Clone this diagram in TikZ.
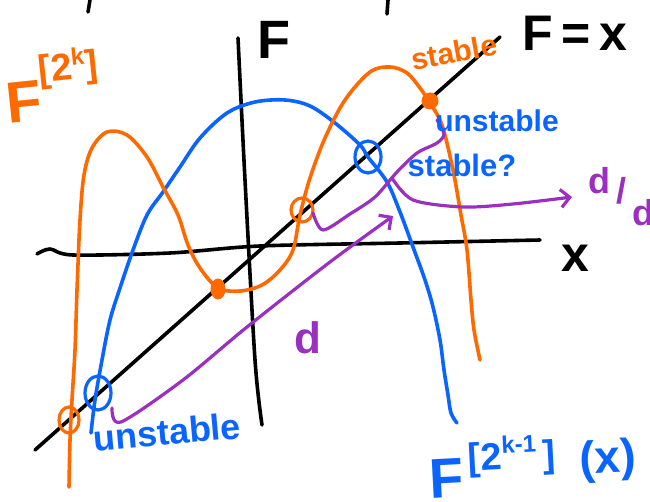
\documentclass[tikz,border=0pt]{standalone}
\usepackage{fontspec}
\setmainfont{Liberation Sans}
\usetikzlibrary{arrows.meta,shapes.geometric}
\definecolor{sketchorange}{RGB}{255,106,0}
\definecolor{sketchblue}{RGB}{10,100,255}
\definecolor{sketchpurple}{RGB}{155,48,190}
\newcommand{\penfs}[1]{\fontsize{#1}{#1}\selectfont}

\begin{document}
\begin{tikzpicture}[x=1pt, y=-1pt, line cap=round, line join=round,
            ink/.style = {line width=3.6pt},
            purp/.style = {sketchpurple, line width=3.2pt},
            barb/.style = {-{Straight Barb[length=9pt, width=18pt]}},
            fixpt/.style = {draw, ellipse, line width=3.2pt, inner sep=0pt},
            dotpt/.style = {fill, ellipse, inner sep=0pt},
            pen/.style = {font=\bfseries, inner sep=0pt}]
            \useasboundingbox (0,0) rectangle (650,502);

            \draw[ink] (90,0) -- (88,12);
            \draw[ink] (388,0) -- (387,14);

            \draw[ink] plot[smooth] coordinates {(37,254) (50,249) (73,255) (170,253) (260,246) (400,243) (540,240)};
            \draw[ink] plot[smooth] coordinates {(238,38) (245,180) (255,360) (262,425)};
            \draw[ink] (35,450) -- (500,37);

            \node[pen] (Flab) at (274,40) {\penfs{54}F};
            \node[pen] (diag) at (575,33) {\penfs{50}F\,=\,x};
            \node[pen] (xlab) at (575,258) {\penfs{50}x};

            \draw[ink, sketchblue] plot[smooth, tension=0.55] coordinates {(91,433) (95,400) (102,360) (110,320) (120,288) (133,250) (147,215) (163,192) (180,167) (200,138) (227,113) (255,102) (285,100) (310,106) (335,123) (360,145) (368,157) (387,182) (400,212) (413,247) (425,280) (433,307) (440,340) (444,370) (448,395) (451,413) (457,423)};
            \draw[ink, sketchorange] plot[smooth, tension=0.55] coordinates {(69,487) (70,440) (72,400) (75,350) (77,290) (80,220) (84,175) (92,148) (107,132) (127,135) (147,157) (163,187) (178,215) (188,245) (200,268) (218,288) (240,291) (262,285) (280,270) (293,250) (300,215) (310,178) (325,138) (345,100) (370,72) (390,67) (407,73) (420,88) (430,103) (442,125) (453,170) (461,215) (467,250) (471,300) (474,330) (480,360)};

            \node[fixpt, sketchorange, minimum width=20pt, minimum height=26pt] (olow) at (69,420) {};
            \node[fixpt, sketchblue, minimum width=26pt, minimum height=34pt] (blow) at (98,393) {};
            \node[dotpt, sketchorange, minimum width=15pt, minimum height=21pt] (omid) at (218,289) {};
            \node[fixpt, sketchorange, minimum width=22pt, minimum height=24pt] (oup) at (302,210) {};
            \node[fixpt, sketchblue, minimum width=26pt, minimum height=32pt] (bup) at (368,157) {};
            \node[dotpt, sketchorange, minimum size=17pt] (otop) at (430,101) {};

            \coordinate (dfrom) at (112,408);
            \coordinate (dto) at (393,216);
            \coordinate (afrom) at (313,213);
            \coordinate (ato) at (437,120);
            \coordinate (lfrom) at (392,178);
            \coordinate (lto) at (572,197);
            \draw[purp, barb] plot[smooth, tension=0.5] coordinates {(dfrom) (121,422) (183,380) (247,327) (330,262) (dto)};
            \draw[purp] plot[smooth, tension=0.5] coordinates {(afrom) (323,230) (350,214) (375,197) (397,172) (417,153) (437,143) (444,134) (ato)};
            \draw[purp, barb] plot[smooth, tension=0.5] coordinates {(lfrom) (413,200) (463,207) (513,204) (lto)};

            \node[pen, sketchpurple] (dlab) at (308,338) {\penfs{44}d};
            \node[pen, sketchpurple, anchor=base west] (ratio) at (588,194) {\penfs{36}d\,\raisebox{-10pt}{/}\,\raisebox{-32pt}{d}};

            \node[pen, sketchorange, rotate=10] (stab) at (454,52) {\penfs{30}stable};
            \node[pen, sketchblue] (unstab) at (497,121) {\penfs{30}unstable};
            \node[pen, sketchblue] (maybe) at (462,165) {\penfs{31}stable?};
            \node[pen, sketchblue, rotate=5] (unlow) at (167,432) {\penfs{36}unstable};

            \node[pen, sketchorange, anchor=base west, rotate=6] (Fk) at (8,124) {\penfs{58}F\raisebox{38pt}{\penfs{38}[2\raisebox{14pt}{\penfs{24}k}]}};
            \node[pen, sketchblue, anchor=base west, rotate=3] (Fk1) at (430,499) {\penfs{56}F\hspace{6pt}\raisebox{26pt}{\penfs{38}[2\raisebox{16pt}{\penfs{24}k-1}\hspace{6pt}]}\hspace{24pt}\raisebox{17pt}{\penfs{46}(x)}};
\end{tikzpicture}
\end{document}
